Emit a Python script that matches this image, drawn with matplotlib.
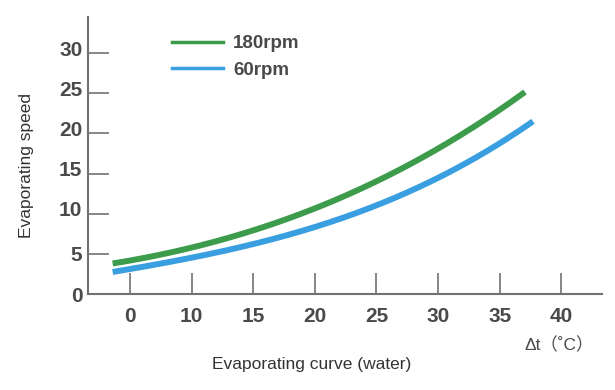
import matplotlib
matplotlib.use("Agg")
import matplotlib.pyplot as plt
from matplotlib.lines import Line2D
from matplotlib.transforms import ScaledTranslation
import numpy as np

# Data (x as category positions; tick labels below)
x_tick_labels = ["0", "10", "15", "20", "25", "30", "35", "40"]
y_ticks = [0, 5, 10, 15, 20, 25, 30]

x_180 = [-0.28, 0, 1, 2, 3, 4, 5, 6, 6.41]
y_180 = [3.86, 4.23, 5.48, 7.97, 10.83, 14.2, 17.9, 22.7, 25.4]
x_60 = [-0.28, 0, 1, 2, 3, 4, 5, 6, 6.54]
y_60 = [2.74, 3.1, 4.48, 6.35, 8.34, 10.83, 14.57, 18.9, 21.4]

green = "#3d9c4c"
blue = "#3a9fe0"
axis_c = "#727272"
text_c = "#4a4a4a"

plt.rcParams['font.family'] = ['Liberation Sans', 'DejaVu Sans']

fig = plt.figure(figsize=(6.15, 3.9), dpi=100)
ax = fig.add_axes([88/615, 1-294/390, (602-88)/615, (294-17)/390])

def smooth(xs, ys):
    xs = np.asarray(xs); ys = np.asarray(ys)
    t = np.linspace(xs[0], xs[-1], 200)
    p = np.polyfit(xs, ys, 3)
    return t, np.polyval(p, t)

t, s = smooth(x_180, y_180)
ax.plot(t, s, color=green, lw=4.3, solid_capstyle='butt')
t, s = smooth(x_60, y_60)
ax.plot(t, s, color=blue, lw=4.3, solid_capstyle='butt')

ax.set_xlim(-0.68, 7.66)
ax.set_ylim(0, 34.5)

for side in ["top", "right"]:
    ax.spines[side].set_visible(False)
for side in ["left", "bottom"]:
    ax.spines[side].set_color(axis_c)
    ax.spines[side].set_linewidth(1.5)

ax.set_xticks(range(len(x_tick_labels)))
ax.set_xticklabels(x_tick_labels)
ax.set_yticks(y_ticks)
ax.set_yticklabels([str(v) for v in y_ticks])
ax.tick_params(axis='both', direction='in', length=15, width=1.2, color=axis_c,
               labelsize=15, labelcolor=text_c)
ax.tick_params(axis='x', pad=9)
ax.tick_params(axis='y', pad=4)
ax.yaxis.get_major_ticks()[0].tick1line.set_visible(False)
for lab in ax.get_xticklabels() + ax.get_yticklabels():
    lab.set_fontweight('bold')

for lab, v in zip(ax.get_yticklabels(), y_ticks):
    if v >= 10:
        lab.set_transform(lab.get_transform() + ScaledTranslation(0, 5/100, fig.dpi_scale_trans))

fig.text(27/615, 1-165/390, "Evaporating speed", rotation=90, ha='center', va='center',
         fontsize=12.5, color="#333333")
fig.text(312/615, 1-364/390, "Evaporating curve (water)", ha='center', va='center',
         fontsize=12.5, color="#333333")
fig.text(559/615, 1-345/390, "Δt（˚C）", ha='center', va='center',
         fontsize=12.5, color=text_c,
         family=['Liberation Sans', 'Noto Sans CJK SC', 'DejaVu Sans'])

handles = [Line2D([], [], color=green, lw=2.5), Line2D([], [], color=blue, lw=2.5)]
leg = fig.legend(handles, ["180rpm", "60rpm"], loc='upper left',
           bbox_to_anchor=(172/615, 1-35/390), frameon=False, fontsize=13.5,
           labelcolor=text_c, handlelength=2.7, handletextpad=0.55, labelspacing=0.5,
           borderaxespad=0, borderpad=0)
for txt in leg.get_texts():
    txt.set_fontweight('bold')

fig.savefig("out.png", dpi=100)
